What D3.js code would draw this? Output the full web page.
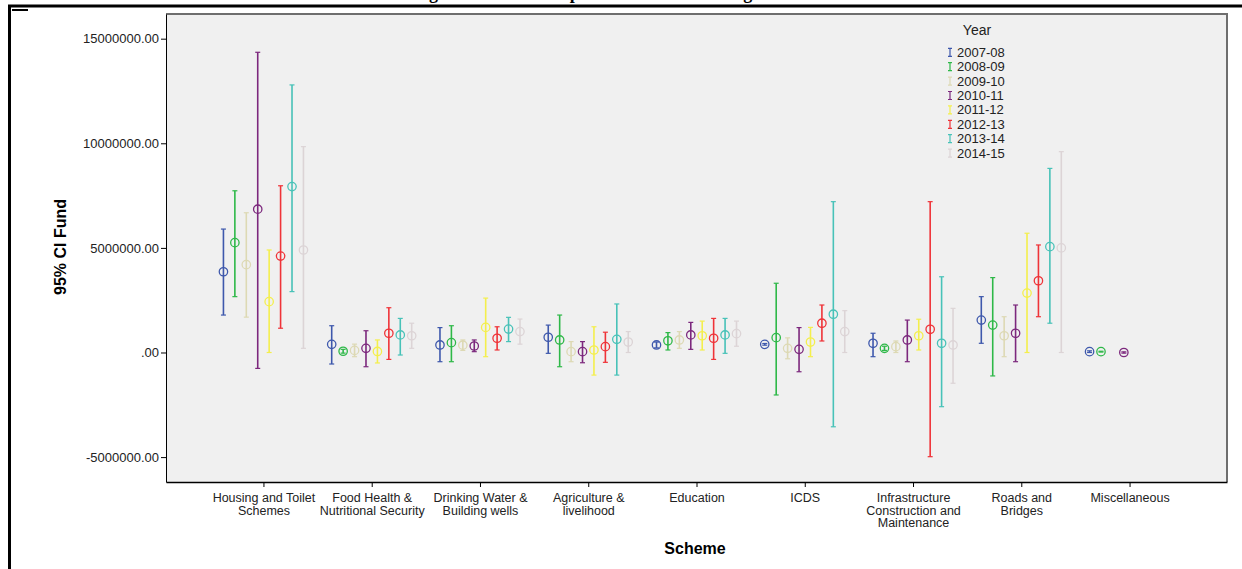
<!DOCTYPE html>
<html>
<head>
<meta charset="utf-8">
<script src="https://cdn.jsdelivr.net/npm/d3@7"></script>
<style>
  body { margin: 0; background: #fff; }
  svg { display: block; font-family: "Liberation Sans", Arial, sans-serif; }
</style>
</head>
<body>
<div id="container"></div>
<script>
//Schemes on the x axis
var schemes = ["Housing and Toilet Schemes", "Food Health & Nutritional Security",
    "Drinking Water & Building wells", "Agriculture & livelihood", "Education", "ICDS",
    "Infrastructure Construction and Maintenance", "Roads and Bridges", "Miscellaneous"];

//Wrapped tick labels, as printed under each tick
var schemeLines = [["Housing and Toilet", "Schemes"], ["Food Health &", "Nutritional Security"],
    ["Drinking Water &", "Building wells"], ["Agriculture &", "livelihood"], ["Education"], ["ICDS"],
    ["Infrastructure", "Construction and", "Maintenance"], ["Roads and", "Bridges"], ["Miscellaneous"]];

var years = ["2007-08", "2008-09", "2009-10", "2010-11", "2011-12", "2012-13", "2013-14", "2014-15"];
var yearColors = ["#3e58ac", "#2eb848", "#ddd9b4", "#7c287d", "#f4ef4c", "#ef3338", "#48c2b8", "#dcd4d6"];

//Mean fund and 95% CI, in millions (one row per year, one column per scheme)
var meanFund = [
    [3.86, 0.39, 0.36, 0.73, 0.36, 0.39, 0.44, 1.55, 0.04],
    [5.25, 0.06, 0.47, 0.60, 0.56, 0.71, 0.20, 1.31, 0.04],
    [4.20, 0.10, 0.35, 0.04, 0.60, 0.20, 0.28, 0.80, null],
    [6.85, 0.20, 0.31, 0.04, 0.84, 0.15, 0.60, 0.92, 0.00],
    [2.43, 0.05, 1.20, 0.12, 0.80, 0.50, 0.80, 2.84, null],
    [4.61, 0.92, 0.68, 0.28, 0.68, 1.40, 1.11, 3.43, null],
    [7.93, 0.84, 1.12, 0.63, 0.84, 1.83, 0.44, 5.06, null],
    [4.90, 0.80, 1.00, 0.50, 0.90, 1.00, 0.36, 5.00, null]
];
var lowerCI = [
    [1.79, -0.55, -0.44, -0.04, 0.22, 0.35, -0.20, 0.44, 0.00],
    [2.67, -0.03, -0.44, -0.68, 0.12, -2.03, 0.10, -1.12, 0.02],
    [1.69, -0.20, 0.10, -0.44, 0.20, -0.30, 0.00, -0.20, null],
    [-0.76, -0.68, 0.04, -0.49, 0.15, -0.92, -0.44, -0.44, -0.03],
    [0.00, -0.50, -0.20, -1.08, 0.12, -0.20, 0.12, 0.00, null],
    [1.16, -0.33, 0.12, -0.47, -0.33, 0.55, -4.98, 1.71, null],
    [2.91, -0.12, 0.52, -1.08, -0.04, -3.55, -2.59, 1.40, null],
    [0.20, 0.20, 0.40, 0.00, 0.30, 0.00, -1.47, 0.00, null]
];
var upperCI = [
    [5.90, 1.28, 1.19, 1.31, 0.50, 0.43, 0.92, 2.67, 0.08],
    [7.73, 0.15, 1.28, 1.79, 0.95, 3.31, 0.30, 3.58, 0.06],
    [6.68, 0.40, 0.60, 0.52, 1.00, 0.70, 0.55, 1.71, null],
    [14.35, 1.04, 0.60, 0.52, 1.44, 1.19, 1.55, 2.27, 0.03],
    [4.90, 0.60, 2.60, 1.23, 1.50, 1.20, 1.59, 5.70, null],
    [7.97, 2.14, 1.23, 0.97, 1.63, 2.27, 7.21, 5.14, null],
    [12.79, 1.63, 1.68, 2.32, 1.63, 7.21, 3.62, 8.80, null],
    [9.84, 1.40, 1.60, 1.00, 1.50, 2.00, 2.11, 9.60, null]
];

var yTicks = [-5, 0, 5, 10, 15];

var width = 1242, height = 569;
var plot = { left: 166, right: 1227, top: 14, bottom: 482 };

var svg = d3.select("#container").append("svg")
    .attr("width", width)
    .attr("height", height);

//Page frame and the clipped title of the source document
svg.append("text")
    .attr("x", 413).attr("y", -1.5)
    .style("font-family", "'Liberation Serif', 'Times New Roman', serif")
    .style("font-weight", "bold").style("font-size", "18px")
    .text("Figure 3: Error Bar plot of Scheme Funding");
svg.append("line").attr("x1", 8).attr("x2", width).attr("y1", 6).attr("y2", 6)
    .attr("stroke", "#000").attr("stroke-width", 3);
svg.append("line").attr("x1", 9.5).attr("x2", 9.5).attr("y1", 5).attr("y2", height)
    .attr("stroke", "#000").attr("stroke-width", 3);
svg.append("line").attr("x1", 12).attr("x2", 28).attr("y1", 10).attr("y2", 10)
    .attr("stroke", "#000").attr("stroke-width", 2);

//Scales
var x = d3.scalePoint().domain(schemes).range([plot.left, plot.right]).padding(0.9);
var xYear = d3.scalePoint().domain(years).range([-40, 40]);
var y = d3.scaleLinear().domain([-6.19, 16.18]).range([plot.bottom, plot.top]);
var color = d3.scaleOrdinal().domain(years).range(yearColors);

//Plot background and frame
svg.append("rect")
    .attr("x", plot.left).attr("y", plot.top)
    .attr("width", plot.right - plot.left).attr("height", plot.bottom - plot.top)
    .attr("fill", "#f0f0f0");
svg.append("path")
    .attr("d", "M" + plot.left + "," + plot.top + "H" + plot.right + "V" + plot.bottom)
    .attr("fill", "none").attr("stroke", "#6e6e6e").attr("stroke-width", 2);

//Axes
var yAxis = d3.axisLeft(y).tickValues(yTicks).tickSize(5).tickSizeOuter(0).tickPadding(2)
    .tickFormat(function (d) { return d === 0 ? ".00" : (d * 1e6).toFixed(2); });
var gy = svg.append("g").attr("transform", "translate(" + plot.left + ",0)").call(yAxis);
gy.selectAll("text").style("font-size", "13px").attr("fill", "#222")
    .style("font-family", "'Liberation Sans', Arial, sans-serif");
gy.select(".domain").attr("stroke", "#000");

var xAxis = d3.axisBottom(x).tickSize(5).tickSizeOuter(0).tickFormat("");
var gx = svg.append("g").attr("transform", "translate(0," + plot.bottom + ")").call(xAxis);
gx.select(".domain").attr("stroke", "#000").attr("stroke-width", 1.5);

gx.selectAll(".tick").each(function (d, i) {
    var t = d3.select(this).append("text")
        .attr("text-anchor", "middle").attr("fill", "#222")
        .style("font-size", "12.5px")
        .style("font-family", "'Liberation Sans', Arial, sans-serif");
    schemeLines[i].forEach(function (line, k) {
        t.append("tspan").attr("x", 0).attr("y", 20 + k * 12.5).text(line);
    });
});

//Axis titles
svg.append("text")
    .attr("transform", "translate(66,247) rotate(-90)")
    .attr("text-anchor", "middle")
    .style("font-weight", "bold").style("font-size", "16px")
    .text("95% CI Fund");
svg.append("text")
    .attr("x", 695).attr("y", 554)
    .attr("text-anchor", "middle")
    .style("font-weight", "bold").style("font-size", "16px")
    .text("Scheme");

//One record per error bar
var bars = [];
years.forEach(function (yr, i) {
    schemes.forEach(function (s, j) {
        if (meanFund[i][j] === null) return;
        bars.push({ year: yr, scheme: s, mean: meanFund[i][j], lo: lowerCI[i][j], hi: upperCI[i][j] });
    });
});

var eb = svg.append("g").selectAll(".errbar")
    .data(bars)
    .enter().append("g")
    .attr("class", "errbar")
    .attr("transform", function (d) { return "translate(" + (x(d.scheme) + xYear(d.year)) + ",0)"; })
    .attr("stroke", function (d) { return color(d.year); })
    .attr("fill", "none");

eb.append("line")
    .attr("y1", function (d) { return y(d.lo); })
    .attr("y2", function (d) { return y(d.hi); })
    .attr("stroke-width", 1.6);
eb.append("line")
    .attr("x1", -2.5).attr("x2", 2.5)
    .attr("y1", function (d) { return y(d.hi); })
    .attr("y2", function (d) { return y(d.hi); })
    .attr("stroke-width", 1.2);
eb.append("line")
    .attr("x1", -2.5).attr("x2", 2.5)
    .attr("y1", function (d) { return y(d.lo); })
    .attr("y2", function (d) { return y(d.lo); })
    .attr("stroke-width", 1.2);
eb.append("circle")
    .attr("cy", function (d) { return y(d.mean); })
    .attr("r", 4.2)
    .attr("stroke-width", 1.3);

//Legend
var legend = svg.append("g").attr("transform", "translate(950,0)");
legend.append("text")
    .attr("x", 27).attr("y", 35)
    .attr("text-anchor", "middle").attr("fill", "#222")
    .style("font-size", "14px")
    .text("Year");
var item = legend.selectAll(".item")
    .data(years)
    .enter().append("g")
    .attr("class", "item")
    .attr("transform", function (d, i) { return "translate(0," + (52.3 + i * 14.4) + ")"; });
item.append("path")
    .attr("d", "M-2,-4H2M0,-4V4M-2,4H2")
    .attr("stroke", function (d) { return color(d); })
    .attr("fill", "none").attr("stroke-width", 1.2);
item.append("text")
    .attr("x", 7).attr("y", 4.5)
    .attr("fill", "#222")
    .style("font-size", "13px")
    .text(function (d) { return d; });
</script>
</body>
</html>
